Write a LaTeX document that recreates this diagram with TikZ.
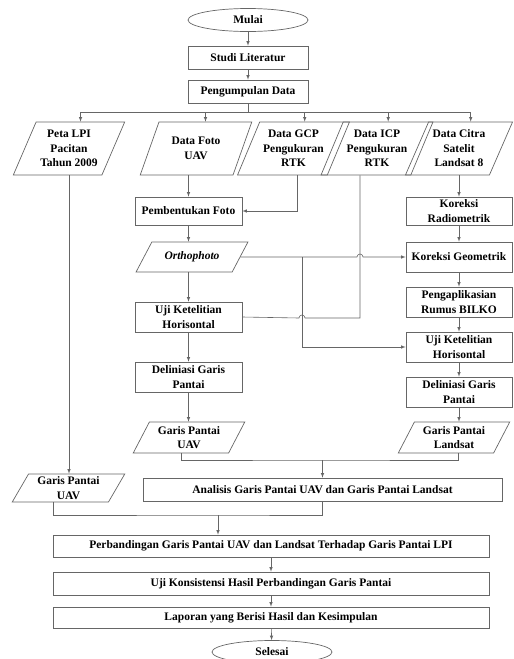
\documentclass[tikz,border=0pt]{standalone}
\usepackage{fontspec}
\setmainfont{Liberation Serif}
\usetikzlibrary{shapes,arrows,calc}
\usetikzlibrary{positioning}

\tikzset{
  proses/.style={draw=black!60, line width=0.7pt, rectangle, align=center, inner sep=1pt, minimum height=30pt},
  datain/.style={draw=black!60, line width=0.7pt, trapezium, trapezium left angle=62, trapezium right angle=118,
    trapezium stretches=true, align=center, inner sep=1pt, minimum width=112pt, minimum height=53pt},
  terminal/.style={draw=black!60, line width=0.7pt, ellipse, inner sep=0pt, minimum width=120pt, minimum height=23pt},
  garis/.style={draw=black!60, line width=0.6pt},
  panah/.style={garis, ->, >=latex},
}

\begin{document}
\begin{tikzpicture}[x=1pt,y=-1pt,font=\fontsize{11.5}{14.5}\selectfont\bfseries]
		\useasboundingbox (0,0) rectangle (514,659);
		% mulai
		\node[terminal] (mulai) at (248,20) {Mulai};
		\node[proses, minimum width=120pt, minimum height=23pt] (studi) at (248,57.5) {Studi Literatur};
		\node[proses, minimum width=120pt, minimum height=23pt] (kumpul) at (248,91.5) {Pengumpulan Data};
		% data
		\node[datain] (peta) at (69,148.5) {Peta LPI\\Pacitan\\Tahun 2009};
		\node[datain] (foto) at (196,148.5) {Data Foto\\UAV};
		\node[datain] (gcp) at (293.5,148.5) {Data GCP\\Pengukuran\\RTK};
		\node[datain] (icp) at (377,148.5) {Data ICP\\Pengukuran\\RTK};
		\node[datain, minimum width=108pt] (citra) at (459,148.5) {Data Citra\\Satelit\\Landsat 8};
		% kolom UAV
		\node[proses, minimum width=107pt, minimum height=28pt] (bentuk) at (188.5,211) {Pembentukan Foto};
		\node[datain, minimum height=30pt, trapezium left angle=48, trapezium right angle=132] (ortho) at (192,257) {\textit{Orthophoto}};
		\node[proses, minimum width=107pt] (ujiL) at (188.5,317) {Uji Ketelitian\\Horisontal};
		\node[proses, minimum width=107pt] (delL) at (188.5,377) {Deliniasi Garis\\Pantai};
		\node[datain, minimum height=31pt] (gpU) at (189,437.5) {Garis Pantai\\UAV};
		% kolom Landsat
		\node[proses, minimum width=106pt, minimum height=28pt] (radio) at (459,211) {Koreksi\\Radiometrik};
		\node[proses, minimum width=106pt] (geo) at (459,257) {Koreksi Geometrik};
		\node[proses, minimum width=106pt] (bilko) at (459,302) {Pengaplikasian\\Rumus BILKO};
		\node[proses, minimum width=106pt] (ujiR) at (459,347) {Uji Ketelitian\\Horisontal};
		\node[proses, minimum width=106pt] (delR) at (459,392) {Deliniasi Garis\\Pantai};
		\node[datain, minimum height=31pt] (gpL) at (454,437.5) {Garis Pantai\\Landsat};
		% hasil
		\node[datain, minimum width=113pt, minimum height=28pt] (gpLPI) at (68.5,488) {Garis Pantai\\UAV};
		\node[proses, minimum width=359pt, minimum height=23pt] (analisis) at (322.5,489.5) {Analisis Garis Pantai UAV dan Garis Pantai Landsat};
		\node[proses, minimum width=436pt, minimum height=22pt] (banding) at (271,546) {Perbandingan Garis Pantai UAV dan Landsat Terhadap Garis Pantai LPI};
		\node[proses, minimum width=436pt, minimum height=23pt] (konsis) at (271,583.5) {Uji Konsistensi Hasil Perbandingan Garis Pantai};
		\node[proses, minimum width=436pt, minimum height=21pt] (lapor) at (271,617.5) {Laporan yang Berisi Hasil dan Kesimpulan};
		\node[terminal] (selesai) at (272,652) {Selesai};

		% titik bantu
		\coordinate (bus) at (248,112);
		\coordinate (cabang) at (302,257);
		\coordinate (lompatA) at (302,318);
		\coordinate (lompatB) at (360,257);
		\coordinate (gabungA) at (322.5,460);
		\coordinate (gabungB) at (218,515);

		% alur atas
		\draw[panah] (mulai) -- (studi);
		\draw[panah] (studi) -- (kumpul);
		\draw[garis] (kumpul) -- (bus);
		\foreach \n in {peta,foto,gcp,icp,citra}
		  \draw[panah] (bus) -| ($(\n.top left corner)!.5!(\n.top right corner)$);
		\draw[panah] (peta.south) -- (peta.south |- gpLPI.north);
		% alur UAV
		\draw[panah] (bentuk.north |- foto.south) -- (bentuk.north);
		\draw[panah] ([xshift=3.5pt]gcp.south) |- (bentuk.east);
		\draw[panah] (bentuk) -- (bentuk |- ortho.north);
		\draw[panah] (bentuk |- ortho.south) -- (ujiL);
		\draw[panah] (ujiL) -- (delL);
		\draw[panah] (delL) -- (delL |- gpU.north);
		\draw[garis] ([xshift=-17pt]icp.south) |- ([xshift=3pt]lompatA) arc[start angle=0,end angle=180,radius=3pt] -- (ujiL.east);
		\draw[panah] (ortho.east) -- ([xshift=-3pt]lompatB) arc[start angle=180,end angle=0,radius=3pt] -- (geo.west);
		\draw[panah] (cabang) |- (ujiR.west);
		% alur Landsat
		\draw[panah] (radio.north |- citra.south) -- (radio.north);
		\draw[panah] (radio) -- (geo);
		\draw[panah] (geo) -- (bilko);
		\draw[panah] (bilko) -- (ujiR);
		\draw[panah] (ujiR) -- (delR);
		\draw[panah] (delR) -- (delR |- gpL.north);
		% gabung
		\draw[garis] ([xshift=-8pt]gpU.south) |- (gabungA) -| ([xshift=4pt]gpL.south);
		\draw[panah] (gabungA) -- (analisis);
		\draw[garis] ([xshift=-15pt]gpLPI.south) |- (gabungB) -| (analisis.south);
		\draw[panah] (gabungB) -- (gabungB |- banding.north);
		\draw[panah] (banding) -- (konsis);
		\draw[panah] (konsis) -- (lapor);
		\draw[panah] (lapor) -- (selesai);
\end{tikzpicture}
\end{document}
